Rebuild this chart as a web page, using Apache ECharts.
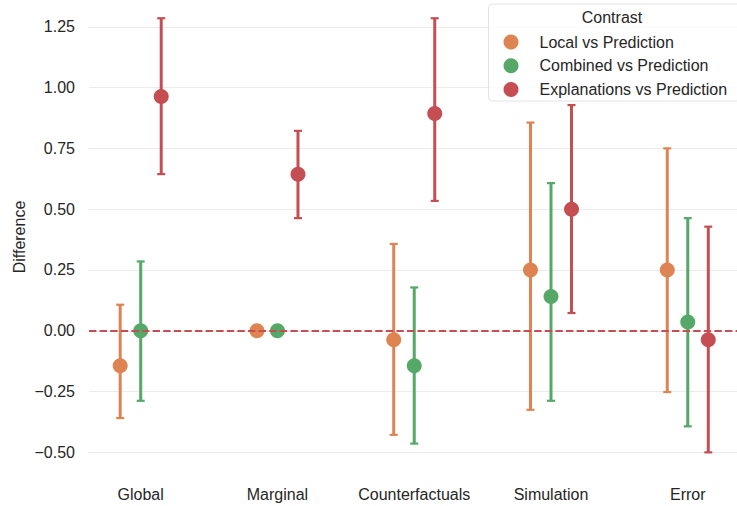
<!DOCTYPE html>
<html>
<head>
<meta charset="utf-8">
<script src="https://cdn.jsdelivr.net/npm/echarts@6/dist/echarts.min.js"></script>
<style>
html,body{margin:0;padding:0;background:#fff;}
#chart{width:737px;height:506px;}
</style>
</head>
<body>
<div id="chart"></div>
<script>
var categories = ['Global', 'Marginal', 'Counterfactuals', 'Simulation', 'Error'];
var seriesNames = ['Local vs Prediction', 'Combined vs Prediction', 'Explanations vs Prediction'];

var localMean = [-0.144, 0.0, -0.037, 0.25, 0.25];
var localLow = [-0.359, 0.0, -0.428, -0.325, -0.252];
var localHigh = [0.107, 0.0, 0.357, 0.856, 0.75];

var combinedMean = [0.0, 0.0, -0.144, 0.141, 0.036];
var combinedLow = [-0.288, 0.0, -0.464, -0.288, -0.393];
var combinedHigh = [0.285, 0.0, 0.178, 0.607, 0.463];

var explMean = [0.963, 0.644, 0.893, 0.5, -0.037];
var explLow = [0.644, 0.463, 0.534, 0.073, -0.5];
var explHigh = [1.285, 0.822, 1.285, 0.928, 0.428];

var yTicks = [-0.5, -0.25, 0, 0.25, 0.5, 0.75, 1.0, 1.25];

var colors = ['#dd8452', '#55a868', '#c44e52'];
var dodge = [-0.15, 0, 0.15];
var FONT = 'Liberation Sans, Arial, sans-serif';
var TEXT = '#262626';
var FS = 16;

var groups = [
  [localMean, localLow, localHigh],
  [combinedMean, combinedLow, combinedHigh],
  [explMean, explLow, explHigh]
];

var series = [];
groups.forEach(function (g, s) {
  var errData = categories.map(function (c, i) { return [i + dodge[s], g[1][i], g[2][i]]; });
  series.push({
    name: seriesNames[s] + ' CI',
    type: 'custom',
    z: 2,
    renderItem: function (params, api) {
      var x = api.value(0);
      var lo = api.coord([x, api.value(1)]);
      var hi = api.coord([x, api.value(2)]);
      var half = 4;
      return {
        type: 'group',
        children: [
          { type: 'line', shape: { x1: lo[0], y1: lo[1], x2: hi[0], y2: hi[1] }, style: { stroke: colors[s], lineWidth: 3 } },
          { type: 'line', shape: { x1: lo[0] - half, y1: lo[1], x2: lo[0] + half, y2: lo[1] }, style: { stroke: colors[s], lineWidth: 2.2 } },
          { type: 'line', shape: { x1: hi[0] - half, y1: hi[1], x2: hi[0] + half, y2: hi[1] }, style: { stroke: colors[s], lineWidth: 2.2 } }
        ]
      };
    },
    encode: { x: 0, y: [1, 2] },
    data: errData,
    silent: true
  });
  series.push({
    name: seriesNames[s],
    type: 'scatter',
    z: 3,
    symbol: 'circle',
    symbolSize: 15,
    itemStyle: { color: colors[s], opacity: 1 },
    data: categories.map(function (c, i) { return [i + dodge[s], g[0][i]]; })
  });
});

series.push({
  name: 'zero',
  type: 'line',
  data: [],
  z: 10,
  markLine: {
    silent: true,
    symbol: ['none', 'none'],
    label: { show: false },
    lineStyle: { color: '#c44e52', width: 2, type: [7.4, 3.2] },
    data: [{ yAxis: 0 }],
    z: 10
  }
});

var chart = echarts.init(document.getElementById('chart'), null, { renderer: 'svg' });
chart.setOption({
  animation: false,
  backgroundColor: '#ffffff',
  textStyle: { fontFamily: FONT },
  grid: { left: 89, right: 0, top: 0, bottom: 32, containLabel: false, outerBoundsMode: 'none' },
  xAxis: {
    type: 'value',
    min: -0.378,
    max: 4.36,
    axisLine: { show: false },
    axisTick: { show: false },
    splitLine: { show: false },
    axisLabel: {
      customValues: [0, 1, 2, 3, 4],
      formatter: function (v) { return categories[Math.round(v)]; },
      fontSize: FS,
      color: TEXT,
      fontFamily: FONT,
      margin: 12
    }
  },
  yAxis: {
    type: 'value',
    min: -0.589,
    max: 1.36,
    name: 'Difference',
    nameLocation: 'middle',
    nameRotate: 90,
    nameGap: 62,
    nameMoveOverlap: false,
    nameTextStyle: { fontSize: FS, color: TEXT, fontFamily: FONT },
    axisLine: { show: false },
    axisTick: { show: false, customValues: yTicks },
    splitLine: { show: true, lineStyle: { color: '#ebebeb', width: 1 } },
    axisLabel: {
      customValues: yTicks,
      formatter: function (v) { return v.toFixed(2).replace('-', '\u2212'); },
      fontSize: FS,
      color: TEXT,
      fontFamily: FONT,
      margin: 14
    }
  },
  legend: {
    data: seriesNames,
    orient: 'vertical',
    left: 503.5,
    top: 34,
    itemWidth: 15,
    itemHeight: 15,
    itemGap: 7.7,
    icon: 'circle',
    padding: 0,
    z: 12,
    textStyle: { fontSize: FS, color: TEXT, fontFamily: FONT, padding: [0, 0, 0, 16] }
  },
  graphic: [
    {
      type: 'rect',
      z: 11,
      silent: true,
      shape: { x: 488.5, y: 4, width: 252, height: 97, r: 4 },
      style: { fill: 'rgba(255,255,255,0.8)', stroke: '#e3e3e3', lineWidth: 1 }
    },
    {
      type: 'text',
      z: 12,
      x: 612,
      y: 17.5,
      style: { text: 'Contrast', align: 'center', verticalAlign: 'middle', fontSize: FS, fontFamily: FONT, fill: TEXT }
    }
  ],
  series: series
});
</script>
</body>
</html>
